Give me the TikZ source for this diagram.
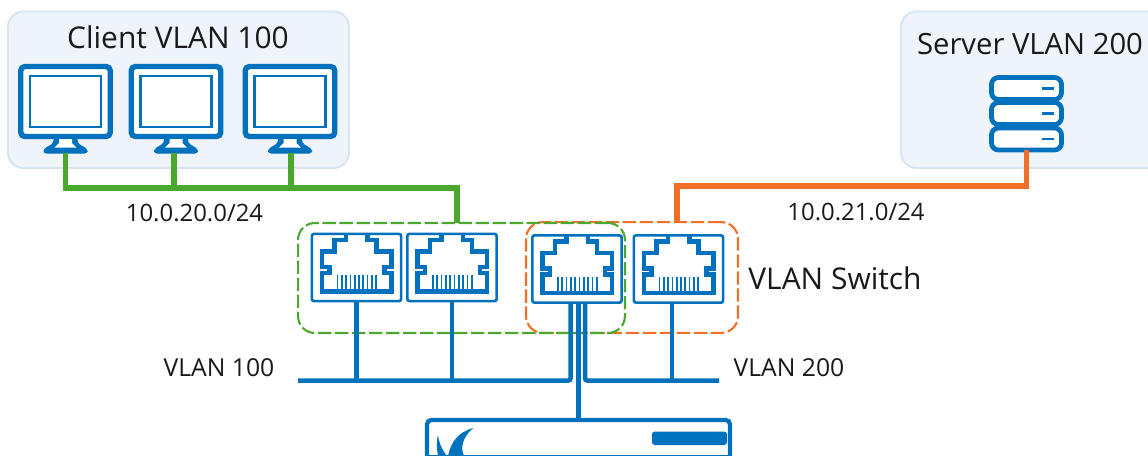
\documentclass[tikz,border=0pt]{standalone}
\usepackage{fontspec}
\setmainfont{Open Sans}
\usepackage{xcolor}
\usepackage{tikz}
\usetikzlibrary{positioning,calc}
\definecolor{netblue}{RGB}{0,113,188}
\definecolor{zonefill}{RGB}{239,244,251}
\definecolor{zoneline}{RGB}{213,229,242}
\definecolor{vlangreen}{RGB}{74,168,45}
\definecolor{vlanorange}{RGB}{240,112,40}
\tikzset{
  zonebox/.style={draw=zoneline,fill=zonefill,line width=1.4pt,rounded corners=11pt,outer sep=0pt},
  portbox/.style={draw=netblue,fill=white,line width=1.9pt,rounded corners=1.5pt,
    minimum width=2.23cm,minimum height=1.68cm,inner sep=0pt,outer sep=0pt},
  screenbox/.style={draw=netblue,fill=white,line width=3.8pt,rounded corners=3pt,
    minimum width=2.24cm,minimum height=1.75cm,inner sep=0pt,outer sep=0pt},
  rackbox/.style={draw=netblue,fill=white,line width=3.4pt,rounded corners=5pt,
    minimum width=1.75cm,minimum height=0.55cm,inner sep=0pt,outer sep=0pt},
  groupbox/.style={line width=1.5pt,dash pattern=on 9.5pt off 2.6pt,rounded corners=12pt,
    inner sep=0pt,outer sep=0pt},
  greenlink/.style={vlangreen,line width=3.6pt},
  orangelink/.style={vlanorange,line width=3.6pt},
  buslink/.style={netblue,line width=3.2pt},
  lbl/.style={text=black!90,inner sep=0pt},
}
% one RJ45 socket inside a port node
\newcommand{\rjsocket}[1]{
  \begin{scope}[shift={(#1)}]
    \draw[netblue,line width=3.2pt,line join=miter]
      (-10.5,-33) -- (-10.5,-27.5) -- (-22,-27.5) -- (-22,-16) -- (-34.5,-16)
      -- (-34.5,-0.5) -- (-27,-0.5) -- (-27,5.5) -- (-34.5,5.5) -- (-34.5,24) -- (35,24)
      -- (35,5.5) -- (28,5.5) -- (28,-0.5) -- (35,-0.5) -- (35,-16) -- (20,-16)
      -- (20,-27.5) -- (11,-27.5) -- (11,-33);
    \foreach \p in {-19,-14.7,-10.4,-6.1,-1.8,2.5,6.8,11.1,15.4,19.7}{
      \draw[netblue,line width=1.2pt] (\p,7.5) -- (\p,23);}
  \end{scope}}
\begin{document}
\begin{tikzpicture}[x=0.025cm,y=-0.025cm]
    \useasboundingbox (0,0) rectangle (1148,455);
    \clip (0,0) rectangle (1148,455);
    % the two zones
    \draw[zonebox] (8,11.5) rectangle (349,168);
    \draw[zonebox] (901,11.5) rectangle (1170,168);
    \node[lbl,font=\fontsize{21.3}{24}\selectfont] (clienttitle) at (178,37) {Client VLAN 100};
    \node[lbl,font=\fontsize{20.8}{24}\selectfont] (servertitle) at (1030,44) {Server VLAN 200};
    % monitors
    \foreach \m/\x in {mon1/65.5, mon2/176, mon3/290}{
      \node[screenbox] (\m) at (\x,101.5) {};
      \draw[netblue,line width=1.5pt] (\x-35.5,76) rectangle (\x+35.5,127);
      \fill[netblue,rounded corners=2pt] (\x-12,137) -- (\x-12,143) -- (\x-22,149) -- (\x-22,153.5)
        -- (\x+22,153.5) -- (\x+22,149) -- (\x+12,143) -- (\x+12,137) -- cycle;
      \fill[white] (\x-6.5,139) -- (\x-6.5,143) -- (\x-11,147.5) -- (\x+11,147.5)
        -- (\x+6.5,143) -- (\x+6.5,139) -- cycle;
      \coordinate (\m foot) at (\x,153);}
    % server
    \foreach \r/\y in {rack1/88.5, rack2/113.5, rack3/139}{
      \node[rackbox] (\r) at (1026.5,\y) {};
      \draw[netblue,line width=1.8pt] (1042,\y) -- (1054,\y);}
    % vlan groups
    \node[groupbox,draw=vlanorange,minimum width=5.3cm,minimum height=2.77cm] (orangegroup) at (632,277.5) {};
    \node[groupbox,draw=vlangreen,minimum width=8.17cm,minimum height=2.75cm] (greengroup) at (461.5,278) {};
    % ports
    \foreach \p/\x/\y in {port1/356.5/267.5, port2/452/267.5, port3/577/269, port4/678.5/269}{
      \node[portbox] (\p) at (\x,\y) {};
      \rjsocket{\p.center}}
    % uplinks
    \coordinate (greenbend) at (457,188);
    \coordinate (orangebend) at (677,186);
    \draw[greenlink] (mon1foot) |- (greenbend) -- (greenbend |- greengroup.north);
    \draw[greenlink] (mon2foot -| 174,0) -- (174,188);
    \draw[greenlink] (mon3foot -| 291,0) -- (291,188);
    \draw[orangelink] (rack3.south) |- (orangebend) -- (orangebend |- orangegroup.north);
    % firewall
    \node[draw=netblue,fill=white,line width=3pt,rounded corners=3pt,minimum width=7.57cm,
      minimum height=2cm,inner sep=0pt,outer sep=0pt] (fwall) at (578.5,460) {};
    \draw[netblue,line width=0.8pt] (429,455.5) -- (728,455.5);
    \fill[netblue,rounded corners=2pt] (727,431.5) -- (652,431.5) -- (652,445) -- (727,445) -- cycle;
    \fill[netblue] (473,428) .. controls (459,432) and (451,441) .. (448,456)
      -- (464,456) .. controls (460,447) and (463,437) .. (473,428) -- cycle;
    \fill[netblue] (438,435) .. controls (436,443) and (437,450) .. (438,456)
      -- (447,456) .. controls (442,450) and (439,443) .. (438,435) -- cycle;
    % trunk and buses
    \coordinate (busleft) at (298,380.5);
    \coordinate (busright) at (719,380.5);
    \draw[buslink] (port1.south) -- (port1.south |- busleft);
    \draw[buslink] (port2.south) -- (port2.south |- busleft);
    \draw[buslink] (port4.south -| 672,0) -- (672,380.5);
    \draw[buslink,rounded corners=1.5pt] (busleft) -- (570.5,380.5) -- (570.5,303);
    \draw[buslink,rounded corners=1.5pt] (busright) -- (585,380.5) -- (585,303);
    \draw[buslink] (port3.south -| fwall.north) -- (fwall.north);
    % labels
    \node[lbl,font=\fontsize{17}{20}\selectfont] (clientnet) at (194.5,213) {10.0.20.0/24};
    \node[lbl,font=\fontsize{17}{20}\selectfont] (servernet) at (856,212) {10.0.21.0/24};
    \node[lbl,font=\fontsize{21.3}{24}\selectfont] (switchlabel) at (835,278) {VLAN Switch};
    \node[lbl,font=\fontsize{17.6}{20}\selectfont] (vlan100) at (219,368) {VLAN 100};
    \node[lbl,font=\fontsize{17.6}{20}\selectfont] (vlan200) at (789,368) {VLAN 200};
  \end{tikzpicture}
\end{document}
